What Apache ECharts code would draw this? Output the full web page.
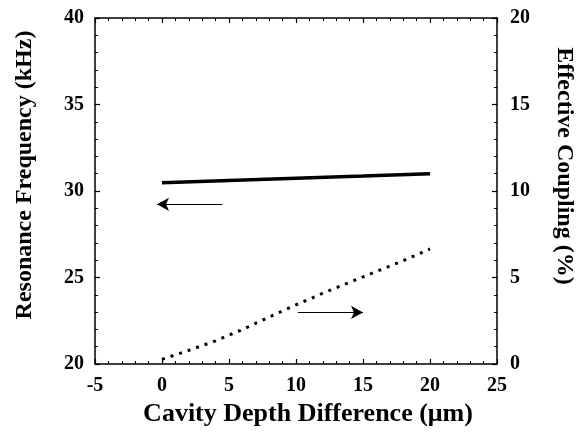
<!DOCTYPE html>
<html>
<head>
<meta charset="utf-8">
<script src="https://cdn.jsdelivr.net/npm/echarts@6/dist/echarts.min.js"></script>
<style>html,body{margin:0;padding:0;background:#fff}#c{width:584px;height:432px}</style>
</head>
<body>
<div id="c"></div>
<script>
// Data
const depthX = [0, 5, 10, 15, 20];
const freqKHz = [30.47, 30.6, 30.73, 30.86, 31.0];
const couplingX = [0, 2, 4, 6, 8, 10, 12, 14, 16, 18, 20];
const couplingPct = [0.27, 0.79, 1.34, 1.99, 2.72, 3.42, 4.09, 4.72, 5.35, 5.97, 6.65];
// annotation arrows: [xFrom, xTo, y] (arrow head at xTo)
const leftArrow = [4.51, -0.37, 29.23];
const rightArrow = [10.13, 15.0, 2.98];

const FONT = 'Liberation Serif';
const chart = echarts.init(document.getElementById('c'));
const tickCommon = {show: true, inside: true, length: 5, lineStyle: {color: '#000', width: 1.2}};
const minorCommon = {show: true, splitNumber: 5, length: 3, lineStyle: {color: '#000', width: 1}};
const lineCommon = {show: true, onZero: false, lineStyle: {color: '#000', width: 1.5}};
const labelCommon = {fontFamily: FONT, fontWeight: 'bold', fontSize: 20, color: '#000'};
const nameCommon = {fontFamily: FONT, fontWeight: 'bold', fontSize: 24, color: '#000'};

chart.setOption({
  animation: false,
  backgroundColor: '#fff',
  grid: {left: 95, right: 79, top: 18, bottom: 65, containLabel: false},
  xAxis: [{
    type: 'value', min: -5, max: 25, interval: 5, position: 'bottom',
    axisLine: lineCommon, axisTick: tickCommon, minorTick: minorCommon,
    splitLine: {show: false},
    axisLabel: Object.assign({margin: 12}, labelCommon),
    name: 'Cavity Depth Difference (μm)', nameLocation: 'middle', nameGap: 37,
    nameTextStyle: Object.assign({}, nameCommon, {fontSize: 26, padding: [0, 0, 0, 24]})
  }, {
    type: 'value', min: -5, max: 25, interval: 5, position: 'top',
    axisLine: lineCommon, axisTick: tickCommon, minorTick: minorCommon,
    splitLine: {show: false}, axisLabel: {show: false}
  }],
  yAxis: [{
    type: 'value', min: 20, max: 40, interval: 5, position: 'left',
    axisLine: lineCommon, axisTick: tickCommon, minorTick: minorCommon,
    splitLine: {show: false},
    axisLabel: Object.assign({margin: 11}, labelCommon),
    name: 'Resonance Frequency (kHz)', nameLocation: 'middle', nameGap: 58, nameRotate: 90,
    nameTextStyle: Object.assign({}, nameCommon, {padding: [0, 0, 0, 32]})
  }, {
    type: 'value', min: 0, max: 20, interval: 5, position: 'right',
    axisLine: lineCommon, axisTick: tickCommon, minorTick: minorCommon,
    splitLine: {show: false},
    axisLabel: Object.assign({margin: 13}, labelCommon),
    name: 'Effective Coupling (%)', nameLocation: 'middle', nameGap: 55, nameRotate: -90,
    nameTextStyle: Object.assign({}, nameCommon, {padding: [0, 50, 0, 0]})
  }],
  series: [{
    type: 'line', xAxisIndex: 0, yAxisIndex: 0,
    data: depthX.map((x, i) => [x, freqKHz[i]]),
    showSymbol: false, lineStyle: {color: '#000', width: 3.5},
    markLine: {
      silent: true, animation: false,
      label: {show: false},
      lineStyle: {color: '#000', width: 1, type: 'solid'},
      data: [[{coord: [leftArrow[0], leftArrow[2]], symbol: 'none'},
              {coord: [leftArrow[1], leftArrow[2]], symbol: 'arrow', symbolSize: [10, 12]}]]
    }
  }, {
    type: 'line', xAxisIndex: 0, yAxisIndex: 1,
    data: couplingX.map((x, i) => [x, couplingPct[i]]),
    showSymbol: false, lineStyle: {color: '#000', width: 3, type: [3, 6], cap: 'butt'},
    markLine: {
      silent: true, animation: false,
      label: {show: false},
      lineStyle: {color: '#000', width: 1, type: 'solid'},
      data: [[{coord: [rightArrow[0], rightArrow[2]], symbol: 'none'},
              {coord: [rightArrow[1], rightArrow[2]], symbol: 'arrow', symbolSize: [10, 12]}]]
    }
  }]
});
</script>
</body>
</html>
